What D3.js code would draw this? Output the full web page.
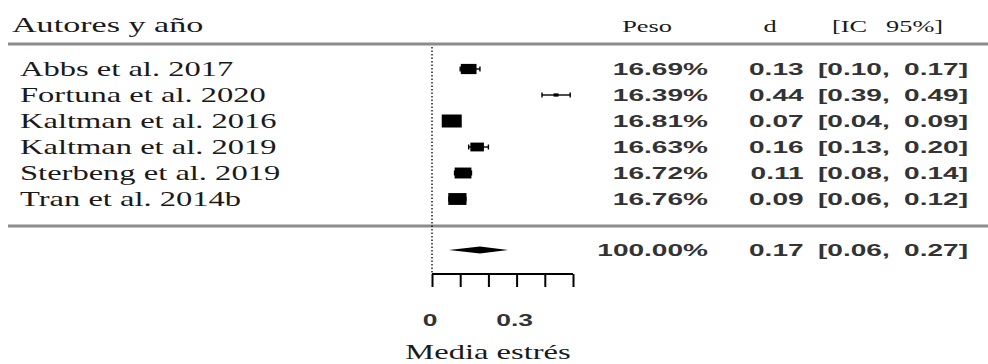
<!doctype html>
<html lang="es">
<head>
<meta charset="UTF-8">
<title>forest</title>
<style>
  body { margin: 0; background: #fff; }
  .serif { font-family: "Liberation Serif", "Times New Roman", serif; fill: #1a1a1a; }
  .sans { font-family: "Liberation Sans", Arial, sans-serif; font-weight: bold; fill: #333; }
  .rule { stroke: #8c8c8c; stroke-width: 3px; }
  .ci { stroke: #000; stroke-width: 1.4px; }
  .box { fill: #000; }
</style>
</head>
<body>
<svg width="988" height="364"></svg>
<script src="https://d3js.org/d3.v7.min.js"></script>
<script>
  const authors = ['Abbs et al. 2017', 'Fortuna et al. 2020', 'Kaltman et al. 2016',
                   'Kaltman et al. 2019', 'Sterbeng et al. 2019', 'Tran et al. 2014b']
  const weights = [16.69, 16.39, 16.81, 16.63, 16.72, 16.76]
  const estimates = [0.13, 0.44, 0.07, 0.16, 0.11, 0.09]
  const lower = [0.10, 0.39, 0.04, 0.13, 0.08, 0.06]
  const upper = [0.17, 0.49, 0.09, 0.20, 0.14, 0.12]
  const summaryWeight = 100.00
  const summaryEst = 0.17
  const summaryLower = 0.06
  const summaryUpper = 0.27
  const axisTicks = [0, 0.1, 0.2, 0.3, 0.4, 0.5]
  const axisLabels = ['0', '0.3']
  const axisTitle = 'Media estrés'

  const svg = d3.select('svg')
  const sx = 1.55   // the picture is stretched sideways
  const sxNum = 1.65

  const x = d3.scaleLinear().domain([0, 0.5]).range([432, 573])
  const y = d3.scalePoint().domain(authors).range([69, 199])
  const boxW = d3.scaleLinear().domain([16.39, 16.81]).range([5, 20])

  function stretchedText(cls, tx, ty, s, k, anchor, size, ws) {
    svg.append('text')
      .attr('class', cls)
      .attr('transform', `translate(${tx},${ty}) scale(${k},1)`)
      .attr('text-anchor', anchor)
      .style('font-size', size + 'px')
      .style('word-spacing', (ws || 0) + 'px')
      .text(s)
  }

  // header
  stretchedText('serif', 12, 32, 'Autores y año', sx, 'start', 22)
  stretchedText('serif', 647, 32, 'Peso', sx, 'middle', 17)
  stretchedText('serif', 770, 32, 'd', sx, 'middle', 17)
  stretchedText('serif', 832, 32, '[IC 95%]', sx, 'start', 17, 8)

  svg.append('line').attr('class', 'rule').attr('x1', 8).attr('x2', 988).attr('y1', 44).attr('y2', 44)
  svg.append('line').attr('class', 'rule').attr('x1', 8).attr('x2', 988).attr('y1', 226).attr('y2', 226)

  // reference line at 0
  svg.append('line')
    .attr('x1', x(0)).attr('x2', x(0)).attr('y1', 47).attr('y2', 274)
    .attr('stroke', '#000').attr('stroke-width', 1.3).attr('stroke-dasharray', '1.5,2')

  const rows = authors.map((a, i) => ({
    name: a, w: weights[i], est: estimates[i], lo: lower[i], hi: upper[i]
  }))

  const g = svg.append('g')
  rows.forEach(d => {
    const cy = y(d.name)
    g.append('line').attr('class', 'ci')
      .attr('x1', x(d.lo)).attr('x2', x(d.hi)).attr('y1', cy).attr('y2', cy)
    ;[d.lo, d.hi].forEach(v => {
      g.append('line').attr('class', 'ci')
        .attr('x1', x(v)).attr('x2', x(v)).attr('y1', cy - 2.5).attr('y2', cy + 2.5)
    })
    const bw = boxW(d.w)
    const bh = bw * 0.65
    g.append('rect').attr('class', 'box')
      .attr('x', x(d.est) - bw / 2).attr('y', cy - bh / 2)
      .attr('width', bw).attr('height', bh)

    stretchedText('serif', 20, cy + 7, d.name, sx, 'start', 21)
    stretchedText('sans', 708, cy + 6, d.w.toFixed(2) + '%', sxNum, 'end', 17)
    stretchedText('sans', 968, cy + 6,
      `${d.est.toFixed(2)} [${d.lo.toFixed(2)}, ${d.hi.toFixed(2)}]`, sxNum, 'end', 17, 4)
  })

  // summary diamond
  const sy = 250
  svg.append('polygon')
    .attr('points', [
      [x(summaryLower), sy], [x(summaryEst), sy - 3.5],
      [x(summaryUpper), sy], [x(summaryEst), sy + 3.5]
    ].map(p => p.join(',')).join(' '))
    .attr('fill', '#000')
  stretchedText('sans', 708, sy + 6, summaryWeight.toFixed(2) + '%', sxNum, 'end', 17)
  stretchedText('sans', 968, sy + 6,
    `${summaryEst.toFixed(2)} [${summaryLower.toFixed(2)}, ${summaryUpper.toFixed(2)}]`, sxNum, 'end', 17, 4)

  // axis
  const axis = d3.axisBottom(x).tickValues(axisTicks).tickSize(13).tickFormat('')
  const ax = svg.append('g').attr('transform', 'translate(0,274)').call(axis)
  ax.select('.domain').attr('stroke-width', 2).attr('d', `M${x(0)},0H${x(0.5)}`)
  ax.selectAll('.tick line').attr('stroke-width', 2)

  axisLabels.forEach(t => {
    stretchedText('sans', x(+t) - 2, 326, t, sxNum, 'middle', 16)
  })
  stretchedText('serif', 488, 359, axisTitle, sx, 'middle', 21)
</script>
</body>
</html>
